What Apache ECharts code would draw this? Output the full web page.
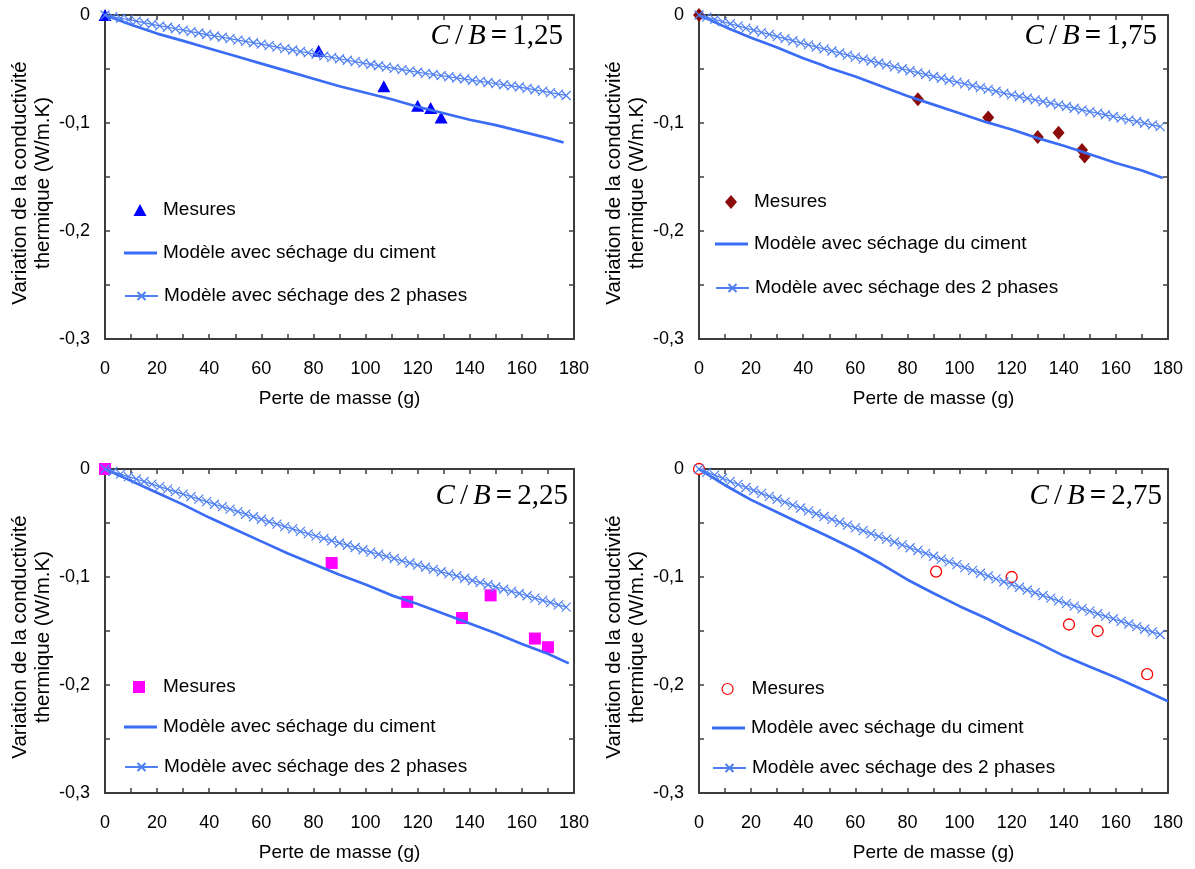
<!DOCTYPE html>
<html><head><meta charset="utf-8">
<script src="https://cdn.jsdelivr.net/npm/echarts@6/dist/echarts.min.js"></script>
<style>html,body{margin:0;padding:0;background:#fff}#c{width:1195px;height:869px}</style>
</head><body><div id="c"></div>
<script>
// ---- data ----
const ratioLabels = ['1,25', '1,75', '2,25', '2,75'];
const xTickValues = [0, 20, 40, 60, 80, 100, 120, 140, 160, 180];
const yTickValues = [0, -0.1, -0.2, -0.3];

// measurements
const mesX1 = [0, 82, 107, 120, 125, 129];
const mesY1 = [0, -0.033, -0.066, -0.084, -0.086, -0.095];
const mesX2 = [0, 84, 111, 130, 138, 147, 148];
const mesY2 = [0, -0.078, -0.095, -0.113, -0.109, -0.125, -0.131];
const mesX3 = [0, 87, 116, 137, 148, 165, 170];
const mesY3 = [0, -0.087, -0.123, -0.138, -0.117, -0.157, -0.165];
const mesX4 = [0, 91, 120, 142, 153, 172];
const mesY4 = [0, -0.095, -0.100, -0.144, -0.150, -0.190];

// model: drying of cement only (solid line)
const cimX1 = [0, 10, 20, 30, 40, 50, 60, 70, 80, 90, 100, 110, 120, 130, 140, 150, 160, 170, 176];
const cimY1 = [0, -0.009, -0.0172, -0.024, -0.031, -0.038, -0.045, -0.052, -0.059, -0.066, -0.072, -0.078, -0.085, -0.091, -0.097, -0.102, -0.108, -0.114, -0.118];
const cimX2 = [0, 10, 20, 30, 40, 47, 50, 60, 70, 80, 90, 100, 110, 120, 130, 140, 150, 160, 170, 178];
const cimY2 = [0, -0.011, -0.021, -0.030, -0.040, -0.046, -0.049, -0.057, -0.066, -0.075, -0.083, -0.091, -0.099, -0.106, -0.114, -0.121, -0.129, -0.137, -0.144, -0.151];
const cimX3 = [0, 10, 20, 30, 40, 50, 60, 70, 80, 90, 100, 110, 120, 130, 140, 150, 160, 170, 178];
const cimY3 = [0, -0.011, -0.022, -0.033, -0.045, -0.056, -0.067, -0.078, -0.088, -0.098, -0.107, -0.117, -0.125, -0.134, -0.143, -0.152, -0.162, -0.171, -0.180];
const cimX4 = [0, 10, 20, 30, 40, 50, 60, 70, 80, 90, 100, 110, 120, 130, 140, 150, 160, 170, 180];
const cimY4 = [0, -0.015, -0.0286, -0.040, -0.0517, -0.063, -0.0748, -0.088, -0.1025, -0.115, -0.127, -0.138, -0.150, -0.161, -0.173, -0.183, -0.193, -0.204, -0.215];

// model: drying of both phases (line with x markers)
const phX = [0, 3, 6, 9, 12, 15, 18, 21, 24, 27, 30, 33, 36, 39, 42, 45, 48, 51, 54, 57, 60, 63, 66, 69, 72, 75, 78, 81, 84, 87, 90, 93, 96, 99, 102, 105, 108, 111, 114, 117, 120, 123, 126, 129, 132, 135, 138, 141, 144, 147, 150, 153, 156, 159, 162, 165, 168, 171, 174, 177];
const phY1 = [0, -0.0015, -0.0030, -0.0043, -0.0057, -0.0071, -0.0086, -0.0100, -0.0113, -0.0127, -0.0140, -0.0154, -0.0167, -0.0181, -0.0194, -0.0206, -0.0219, -0.0232, -0.0244, -0.0257, -0.0270, -0.0284, -0.0297, -0.0311, -0.0324, -0.0338, -0.0351, -0.0365, -0.0378, -0.0392, -0.0405, -0.0419, -0.0432, -0.0446, -0.0458, -0.0470, -0.0482, -0.0494, -0.0506, -0.0518, -0.0530, -0.0541, -0.0551, -0.0562, -0.0572, -0.0583, -0.0593, -0.0604, -0.0614, -0.0625, -0.0635, -0.0646, -0.0656, -0.0667, -0.0679, -0.0692, -0.0705, -0.0719, -0.0732, -0.0745];
const phY2 = [0, -0.0020, -0.0041, -0.0061, -0.0081, -0.0101, -0.0122, -0.0141, -0.0161, -0.0180, -0.0200, -0.0219, -0.0238, -0.0258, -0.0277, -0.0296, -0.0314, -0.0333, -0.0352, -0.0371, -0.0390, -0.0408, -0.0426, -0.0444, -0.0462, -0.0480, -0.0498, -0.0516, -0.0533, -0.0551, -0.0569, -0.0586, -0.0604, -0.0621, -0.0638, -0.0655, -0.0672, -0.0689, -0.0706, -0.0723, -0.0740, -0.0755, -0.0771, -0.0786, -0.0801, -0.0817, -0.0832, -0.0847, -0.0863, -0.0878, -0.0894, -0.0909, -0.0924, -0.0940, -0.0955, -0.0971, -0.0986, -0.1002, -0.1018, -0.1034];
const phY3 = [0, -0.0023, -0.0047, -0.0070, -0.0093, -0.0116, -0.0140, -0.0163, -0.0186, -0.0209, -0.0233, -0.0256, -0.0279, -0.0302, -0.0326, -0.0349, -0.0372, -0.0395, -0.0419, -0.0442, -0.0465, -0.0488, -0.0510, -0.0533, -0.0555, -0.0578, -0.0600, -0.0622, -0.0643, -0.0664, -0.0685, -0.0706, -0.0727, -0.0748, -0.0769, -0.0789, -0.0809, -0.0829, -0.0850, -0.0870, -0.0890, -0.0910, -0.0930, -0.0951, -0.0971, -0.0991, -0.1012, -0.1032, -0.1052, -0.1072, -0.1093, -0.1113, -0.1133, -0.1153, -0.1174, -0.1195, -0.1216, -0.1237, -0.1258, -0.1279];
const phY4 = [0, -0.0029, -0.0057, -0.0086, -0.0114, -0.0143, -0.0171, -0.0199, -0.0226, -0.0253, -0.0280, -0.0307, -0.0334, -0.0361, -0.0388, -0.0414, -0.0440, -0.0466, -0.0493, -0.0519, -0.0545, -0.0571, -0.0598, -0.0624, -0.0650, -0.0676, -0.0703, -0.0729, -0.0755, -0.0781, -0.0808, -0.0834, -0.0860, -0.0886, -0.0913, -0.0939, -0.0965, -0.0991, -0.1018, -0.1044, -0.1070, -0.1095, -0.1120, -0.1146, -0.1171, -0.1196, -0.1221, -0.1246, -0.1269, -0.1293, -0.1316, -0.1340, -0.1364, -0.1387, -0.1411, -0.1435, -0.1460, -0.1484, -0.1508, -0.1532];

const seriesNames = ['Mesures', 'Modèle avec séchage du ciment', 'Modèle avec séchage des 2 phases'];
const xAxisName = 'Perte de masse (g)';
const yAxisName = 'Variation de la conductivité\nthermique (W/m.K)';

// ---- layout / styles ----
const panels = [
  {left: 105, top: 15, mx: mesX1, my: mesY1, cx: cimX1, cy: cimY1, py: phY1,
   sym: 'triangle', symW: 13, symH: 12, mcolor: '#0000ff', mborder: null,
   legMesX: 140, legLineX: 124, legY: [210, 253, 296], titleRight: 1195 - 563, titleTop: 22},
  {left: 699, top: 15, mx: mesX2, my: mesY2, cx: cimX2, cy: cimY2, py: phY2,
   sym: 'diamond', symW: 12, symH: 14, mcolor: '#8b0a0a', mborder: null,
   legMesX: 731, legLineX: 715, legY: [202, 244, 288], titleRight: 1195 - 1157, titleTop: 22},
  {left: 105, top: 469, mx: mesX3, my: mesY3, cx: cimX3, cy: cimY3, py: phY3,
   sym: 'rect', symW: 12, symH: 12, mcolor: '#ff00ff', mborder: null,
   legMesX: 139, legLineX: 124, legY: [687, 727, 767], titleRight: 1195 - 568, titleTop: 482},
  {left: 699, top: 469, mx: mesX4, my: mesY4, cx: cimX4, cy: cimY4, py: phY4,
   sym: 'circle', symW: 11, symH: 11, mcolor: '#ffffff', mborder: '#ff0000',
   legMesX: 727, legLineX: 712, legY: [689, 728, 768], titleRight: 1195 - 1162, titleTop: 482}
];
const GW = 469, GH = 324;
const axisColor = '#3c3c3c';
const font = '"Liberation Sans", Arial, sans-serif';
const serif = '"Liberation Serif", "Times New Roman", serif';
const solidColor = '#3a6cf5';
const crossColor = '#4f80f2';
const crossPath = 'path://M0,0L10,10M10,0L0,10';
const legendFont = 19;

const zip = (a, b) => a.map((v, i) => [v, b[i]]);
const fmtX = v => (Math.round(v) % 20 === 0 ? String(Math.round(v)) : '');
const fmtY = v => {
  const r = Math.round(v * 100);
  if (r % 10 !== 0) return '';
  return r === 0 ? '0' : (r / 100).toFixed(1).replace('.', ',');
};

const grid = [], xAxis = [], yAxis = [], series = [], legend = [], title = [];
panels.forEach((p, i) => {
  grid.push({left: p.left, top: p.top, width: GW, height: GH});
  const common = {gridIndex: i, min: 0, max: 180, interval: 10, splitLine: {show: false},
    axisLine: {show: true, onZero: false, lineStyle: {color: axisColor, width: 2}},
    axisTick: {show: true, inside: true, length: 5, lineStyle: {color: axisColor, width: 1.5}}};
  xAxis.push(Object.assign({}, common, {type: 'value', position: 'bottom',
    name: xAxisName, nameLocation: 'middle', nameGap: 50,
    nameTextStyle: {fontFamily: font, fontSize: 19, color: '#000'},
    axisLabel: {show: true, margin: 21, formatter: fmtX, fontFamily: font, fontSize: 18, color: '#000', showMinLabel: true, showMaxLabel: true}}));
  xAxis.push(Object.assign({}, common, {type: 'value', position: 'top', axisLabel: {show: false}}));
  const ycommon = {gridIndex: i, type: 'value', min: -0.3, max: 0, interval: 0.05, splitLine: {show: false},
    axisLine: {show: true, onZero: false, lineStyle: {color: axisColor, width: 2}},
    axisTick: {show: true, inside: true, length: 5, lineStyle: {color: axisColor, width: 1.5}}};
  yAxis.push(Object.assign({}, ycommon, {position: 'left',
    name: yAxisName, nameLocation: 'middle', nameGap: 50, nameRotate: 90,
    nameTextStyle: {fontFamily: font, fontSize: 20.5, color: '#000', lineHeight: 23, align: 'center', padding: [0, 12, 0, 0]},
    axisLabel: {show: true, margin: 15, formatter: fmtY, fontFamily: font, fontSize: 18, color: '#000'}}));
  yAxis.push(Object.assign({}, ycommon, {position: 'right', axisLabel: {show: false}}));

  const tag = 'p' + i + '|';
  series.push({type: 'scatter', name: tag + seriesNames[0], xAxisIndex: 2 * i, yAxisIndex: 2 * i,
    data: zip(p.mx, p.my), symbol: p.sym, symbolSize: [p.symW, p.symH], z: 2,
    itemStyle: p.mborder ? {color: p.mcolor, borderColor: p.mborder, borderWidth: 1.3, opacity: 1} : {color: p.mcolor, opacity: 1}});
  series.push({type: 'line', name: tag + seriesNames[1], xAxisIndex: 2 * i, yAxisIndex: 2 * i,
    data: zip(p.cx, p.cy), symbol: 'none', showSymbol: false, z: 3,
    lineStyle: {color: solidColor, width: 2.7}, itemStyle: {color: solidColor}});
  series.push({type: 'line', name: tag + seriesNames[2], xAxisIndex: 2 * i, yAxisIndex: 2 * i,
    data: zip(phX, p.py), symbol: crossPath, symbolSize: 9, showSymbol: true, z: 4,
    lineStyle: {color: crossColor, width: 1.2},
    itemStyle: {color: 'rgba(0,0,0,0)', borderColor: crossColor, borderWidth: 1.2}});

  const fmt = n => n.split('|')[1];
  const txt = extraPad => ({fontFamily: font, fontSize: legendFont, color: '#000', padding: [0, 0, 0, extraPad]});
  const half = legendFont / 2;
  // Mesures legend (icon box = marker size)
  legend.push({show: true, orient: 'vertical', padding: 0, selectedMode: false,
    left: p.legMesX - p.symW / 2, top: p.legY[0] - Math.max(half, p.symH / 2),
    itemWidth: p.symW, itemHeight: p.symH,
    data: [tag + seriesNames[0]], formatter: fmt,
    itemStyle: p.mborder ? {borderWidth: 1.2} : {},
    textStyle: txt(p.legLineX + 34 - (p.legMesX + p.symW / 2))});
  // solid line legend
  legend.push({show: true, orient: 'vertical', padding: 0, selectedMode: false,
    left: p.legLineX, top: p.legY[1] - half,
    itemWidth: 33, itemHeight: 3, icon: 'rect',
    data: [tag + seriesNames[1]], formatter: fmt, textStyle: txt(1)});
  // line with crosses legend
  legend.push({show: true, orient: 'vertical', padding: 0, selectedMode: false,
    left: p.legLineX, top: p.legY[2] - half,
    itemWidth: 33, itemHeight: 10,
    data: [tag + seriesNames[2]], formatter: fmt, textStyle: txt(1)});

  title.push({right: p.titleRight, top: p.titleTop, padding: 0, text:
    '{i|C} {n|/} {i|B} {b|=} {n|' + ratioLabels[i] + '}',
    textStyle: {fontWeight: 'normal', rich: {
      i: {fontFamily: serif, fontStyle: 'italic', fontWeight: 'normal', fontSize: 29, color: '#000'},
      n: {fontFamily: serif, fontWeight: 'normal', fontSize: 29, color: '#000'},
      b: {fontFamily: serif, fontWeight: 'bold', fontSize: 29, color: '#000'}
    }}});
});

const chart = echarts.init(document.getElementById('c'), null, {renderer: 'canvas'});
chart.setOption({animation: false, backgroundColor: '#fff', grid, xAxis, yAxis, series, legend, title});
</script>
</body></html>
